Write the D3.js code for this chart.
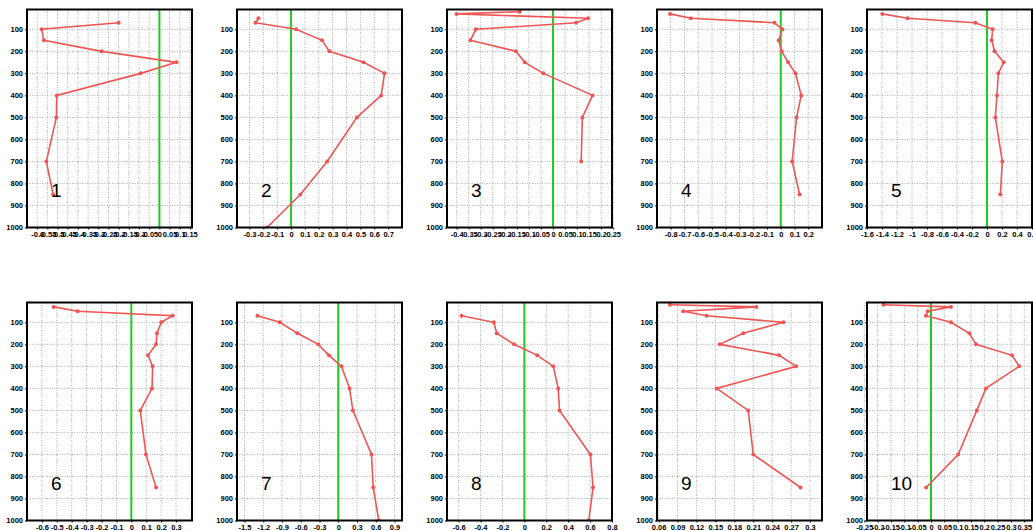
<!DOCTYPE html>
<html>
<head>
<meta charset="utf-8">
<style>
body { margin: 0; background: #fff; }
svg { display: block; }
.tick text { font-family: "Liberation Sans", Arial, sans-serif; font-weight: bold; font-size: 7.5px; fill: #000; }
.axis .domain { display: none; }
.grid line { stroke: #9a9a9a; stroke-width: 0.8; stroke-dasharray: 1,1.5; }
</style>
</head>
<body>
<svg width="1033" height="531"></svg>
<script src="https://d3js.org/d3.v7.min.js"></script>
<script>
// pressure axis
var pressureTicks = [100, 200, 300, 400, 500, 600, 700, 800, 900, 1000];
var pressureDomain = [10, 1000];

// panel 1
var p1 = [70, 100, 150, 200, 250, 300, 400, 500, 700, 850];
var v1 = [-0.20, -0.578, -0.567, -0.283, 0.084, -0.092, -0.504, -0.506, -0.555, -0.522];
var dom1 = [-0.65, 0.16];
var ticks1 = [-0.6, -0.55, -0.5, -0.45, -0.4, -0.35, -0.3, -0.25, -0.2, -0.15, -0.1, -0.05, 0, 0.05, 0.1, 0.15];

// panel 2
var p2 = [50, 70, 100, 150, 200, 250, 300, 400, 500, 700, 850, 1000];
var v2 = [-0.235, -0.257, 0.036, 0.223, 0.276, 0.523, 0.674, 0.65, 0.475, 0.26, 0.067, -0.173];
var dom2 = [-0.39, 0.80];
var ticks2 = [-0.3, -0.2, -0.1, 0, 0.1, 0.2, 0.3, 0.4, 0.5, 0.6, 0.7];

// panel 3
var p3 = [20, 30, 50, 70, 100, 150, 200, 250, 300, 400, 500, 700];
var v3 = [-0.138, -0.40, 0.146, 0.096, -0.32, -0.343, -0.154, -0.117, -0.04, 0.164, 0.122, 0.117];
var dom3 = [-0.44, 0.245];
var ticks3 = [-0.4, -0.35, -0.3, -0.25, -0.2, -0.15, -0.1, -0.05, 0, 0.05, 0.1, 0.15, 0.2, 0.25];

// panel 4
var p4 = [30, 50, 70, 100, 150, 200, 250, 300, 400, 500, 700, 850];
var v4 = [-0.805, -0.654, -0.046, 0.012, -0.015, 0.007, 0.054, 0.107, 0.149, 0.115, 0.083, 0.137];
var dom4 = [-0.9, 0.3];
var ticks4 = [-0.8, -0.7, -0.6, -0.5, -0.4, -0.3, -0.2, -0.1, 0, 0.1, 0.2];

// panel 5
var p5 = [30, 50, 70, 100, 150, 200, 250, 300, 400, 500, 700, 850];
var v5 = [-1.396, -1.058, -0.156, 0.076, 0.062, 0.102, 0.222, 0.151, 0.133, 0.111, 0.204, 0.178];
var dom5 = [-1.6, 0.6];
var ticks5 = [-1.6, -1.4, -1.2, -1, -0.8, -0.6, -0.4, -0.2, 0, 0.2, 0.4, 0.6];

// panel 6
var p6 = [30, 50, 70, 100, 150, 200, 250, 300, 400, 500, 700, 850];
var v6 = [-0.521, -0.36, 0.277, 0.201, 0.172, 0.166, 0.112, 0.143, 0.139, 0.06, 0.098, 0.166];
var dom6 = [-0.7, 0.407];
var ticks6 = [-0.6, -0.5, -0.4, -0.3, -0.2, -0.1, 0, 0.1, 0.2, 0.3];

// panel 7
var p7 = [70, 100, 150, 200, 250, 300, 400, 500, 700, 850, 1000];
var v7 = [-1.293, -0.936, -0.654, -0.319, -0.149, 0.053, 0.181, 0.234, 0.532, 0.559, 0.649];
var dom7 = [-1.62, 1.02];
var ticks7 = [-1.5, -1.2, -0.9, -0.6, -0.3, 0, 0.3, 0.6, 0.9];

// panel 8
var p8 = [70, 100, 150, 200, 250, 300, 400, 500, 700, 850, 1000];
var v8 = [-0.573, -0.279, -0.252, -0.094, 0.118, 0.264, 0.309, 0.321, 0.603, 0.627, 0.588];
var dom8 = [-0.706, 0.80];
var ticks8 = [-0.6, -0.4, -0.2, 0, 0.2, 0.4, 0.6, 0.8];

// panel 9
var p9 = [20, 30, 50, 70, 100, 150, 200, 250, 300, 400, 500, 700, 850];
var v9 = [0.078, 0.215, 0.099, 0.136, 0.258, 0.194, 0.157, 0.251, 0.278, 0.152, 0.202, 0.21, 0.285];
var dom9 = [0.0574, 0.319];
var ticks9 = [0.06, 0.09, 0.12, 0.15, 0.18, 0.21, 0.24, 0.27, 0.3];

// panel 10
var p10 = [20, 30, 50, 70, 100, 150, 200, 250, 300, 400, 500, 700, 850];
var v10 = [-0.178, 0.075, -0.012, -0.019, 0.075, 0.144, 0.169, 0.304, 0.331, 0.206, 0.172, 0.102, -0.018];
var dom10 = [-0.24, 0.379];
var ticks10 = [-0.25, -0.2, -0.15, -0.1, -0.05, 0, 0.05, 0.1, 0.15, 0.2, 0.25, 0.3, 0.35];

var panels = [
  {label: "1", p: p1, v: v1, dom: dom1, ticks: ticks1},
  {label: "2", p: p2, v: v2, dom: dom2, ticks: ticks2},
  {label: "3", p: p3, v: v3, dom: dom3, ticks: ticks3},
  {label: "4", p: p4, v: v4, dom: dom4, ticks: ticks4},
  {label: "5", p: p5, v: v5, dom: dom5, ticks: ticks5},
  {label: "6", p: p6, v: v6, dom: dom6, ticks: ticks6},
  {label: "7", p: p7, v: v7, dom: dom7, ticks: ticks7},
  {label: "8", p: p8, v: v8, dom: dom8, ticks: ticks8},
  {label: "9", p: p9, v: v9, dom: dom9, ticks: ticks9},
  {label: "10", p: p10, v: v10, dom: dom10, ticks: ticks10}
];

var svg = d3.select("svg"),
    pw = 165, ph = 218;

panels.forEach(function(d, i) {
  var col = i % 5, row = Math.floor(i / 5);
  var left = 27 + col * 210, top = row == 0 ? 9.5 : 302.5;

  var x = d3.scaleLinear().domain(d.dom).range([0, pw]);
  var y = d3.scaleLinear().domain(pressureDomain).range([0, ph]);

  var g = svg.append("g").attr("transform", "translate(" + left + "," + top + ")");

  g.append("clipPath").attr("id", "clip" + i)
    .append("rect").attr("width", pw).attr("height", ph);

  // grid
  var grid = g.append("g").attr("class", "grid");
  grid.selectAll("line.v").data(d.ticks).enter().append("line")
      .attr("x1", function(t) { return x(t); })
      .attr("x2", function(t) { return x(t); })
      .attr("y1", 0).attr("y2", ph);
  grid.selectAll("line.h").data(pressureTicks.slice(0, -1)).enter().append("line")
      .attr("y1", function(t) { return y(t); })
      .attr("y2", function(t) { return y(t); })
      .attr("x1", 0).attr("x2", pw);

  // zero line
  if (d.dom[0] < 0 && d.dom[1] > 0) {
    g.append("line")
      .attr("x1", x(0)).attr("x2", x(0))
      .attr("y1", 0).attr("y2", ph)
      .attr("stroke", "#1fcc1f")
      .attr("stroke-width", 2);
  }

  var pts = d.p.map(function(p, k) { return [d.v[k], p]; });
  var plot = g.append("g").attr("clip-path", "url(#clip" + i + ")");

  plot.append("path")
      .datum(pts)
      .attr("fill", "none")
      .attr("stroke", "#f05555")
      .attr("stroke-width", 1.6)
      .attr("d", d3.line().x(function(q) { return x(q[0]); }).y(function(q) { return y(q[1]); }));

  plot.selectAll("circle").data(pts).enter().append("circle")
      .attr("cx", function(q) { return x(q[0]); })
      .attr("cy", function(q) { return y(q[1]); })
      .attr("r", 2)
      .attr("fill", "#f05555");

  // axes
  g.append("g")
      .attr("class", "axis")
      .attr("transform", "translate(0," + ph + ")")
      .call(d3.axisBottom(x).tickValues(d.ticks).tickSize(2).tickPadding(2)
        .tickFormat(function(t) { return String(t); }));

  g.append("g")
      .attr("class", "axis")
      .call(d3.axisLeft(y).tickValues(pressureTicks).tickSize(2).tickPadding(2)
        .tickFormat(d3.format("d")));

  g.append("rect")
      .attr("width", pw).attr("height", ph)
      .attr("fill", "none")
      .attr("stroke", "#000")
      .attr("stroke-width", 2);

  g.append("text")
      .attr("x", 24)
      .attr("y", 187.5)
      .attr("font-family", "Liberation Sans, Arial, sans-serif")
      .attr("font-size", 19)
      .attr("fill", "#000")
      .text(d.label);
});
</script>
</body>
</html>
